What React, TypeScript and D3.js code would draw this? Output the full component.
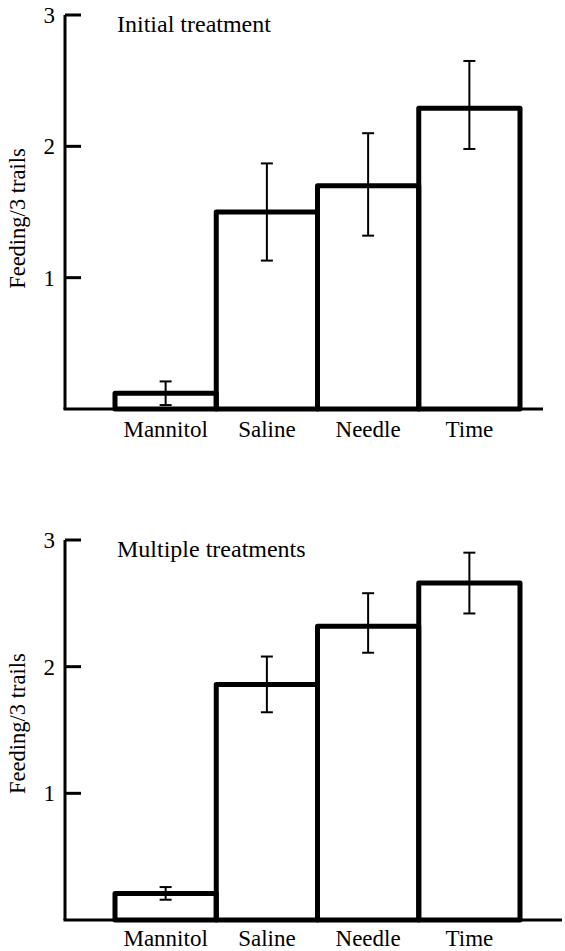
import React from "react";
import * as d3 from "d3";

const categories = ["Mannitol", "Saline", "Needle", "Time"];
const initialMeans = [0.12, 1.5, 1.7, 2.29];
const initialLow = [0.03, 1.13, 1.32, 1.98];
const initialHigh = [0.21, 1.87, 2.1, 2.65];
const multipleMeans = [0.21, 1.86, 2.32, 2.66];
const multipleLow = [0.16, 1.64, 2.11, 2.42];
const multipleHigh = [0.26, 2.08, 2.58, 2.9];
const yTicks = [1, 2, 3];
const yLabel = "Feeding/3 trails";

const FONT = "'Liberation Serif', 'Times New Roman', serif";

type PanelProps = {
  title: string;
  means: number[];
  low: number[];
  high: number[];
  top: number;
  bottom: number;
  baseEnd: number;
  labelY: number;
  yLabelAt: number;
};

function Panel({ title, means, low, high, top, bottom, baseEnd, labelY, yLabelAt }: PanelProps) {
  const x0 = 65;
  const x = d3.scaleBand<string>().domain(categories).range([115, 520]).padding(0);
  const y = d3.scaleLinear().domain([0, 3]).range([bottom, top]);
  const bw = x.bandwidth();
  return (
    <g>
      {categories.map((c, i) => (
        <rect
          key={c}
          x={x(c)!}
          y={y(means[i])}
          width={bw}
          height={y(0) - y(means[i])}
          fill="none"
          stroke="#000"
          strokeWidth={5}
          strokeLinejoin="round"
        />
      ))}
      {categories.map((c, i) => {
        const cx = x(c)! + bw / 2;
        return (
          <g key={"e" + c} stroke="#000" strokeWidth={2}>
            <line x1={cx} x2={cx} y1={y(high[i])} y2={y(low[i])} />
            <line x1={cx - 6} x2={cx + 6} y1={y(high[i])} y2={y(high[i])} />
            <line x1={cx - 6} x2={cx + 6} y1={y(low[i])} y2={y(low[i])} />
          </g>
        );
      })}
      <line x1={x0} x2={x0} y1={y(3)} y2={y(0)} stroke="#000" strokeWidth={3} />
      <line x1={x0 - 1.5} x2={baseEnd} y1={y(0)} y2={y(0)} stroke="#000" strokeWidth={3} />
      {yTicks.map((t) => (
        <g key={t}>
          <line x1={x0} x2={x0 + 16} y1={y(t)} y2={y(t)} stroke="#000" strokeWidth={3} />
          <text
            x={55}
            y={y(t) + 8}
            textAnchor="end"
            fontFamily={FONT}
            fontSize={23}
            fill="#000"
          >
            {t}
          </text>
        </g>
      ))}
      <text x={117} y={y(3) + 17} fontFamily={FONT} fontSize={24} fill="#000">
        {title}
      </text>
      <text
        transform={`translate(25,${y(yLabelAt)}) rotate(-90)`}
        textAnchor="middle"
        fontFamily={FONT}
        fontSize={22.5}
        fill="#000"
      >
        {yLabel}
      </text>
      {categories.map((c) => (
        <text
          key={"l" + c}
          x={x(c)! + bw / 2}
          y={labelY}
          textAnchor="middle"
          fontFamily={FONT}
          fontSize={23}
          fill="#000"
        >
          {c}
        </text>
      ))}
    </g>
  );
}

export default function App() {
  return (
    <svg
      width={565}
      height={951}
      style={{ position: "absolute", left: 0, top: 0, background: "#fff" }}
    >
      <rect x={0} y={0} width={565} height={951} fill="#fff" />
      <Panel
        title="Initial treatment"
        means={initialMeans}
        low={initialLow}
        high={initialHigh}
        top={15}
        bottom={409}
        baseEnd={543}
        labelY={437}
        yLabelAt={1.45}
      />
      <Panel
        title="Multiple treatments"
        means={multipleMeans}
        low={multipleLow}
        high={multipleHigh}
        top={540}
        bottom={920}
        baseEnd={562}
        labelY={946}
        yLabelAt={1.55}
      />
    </svg>
  );
}
